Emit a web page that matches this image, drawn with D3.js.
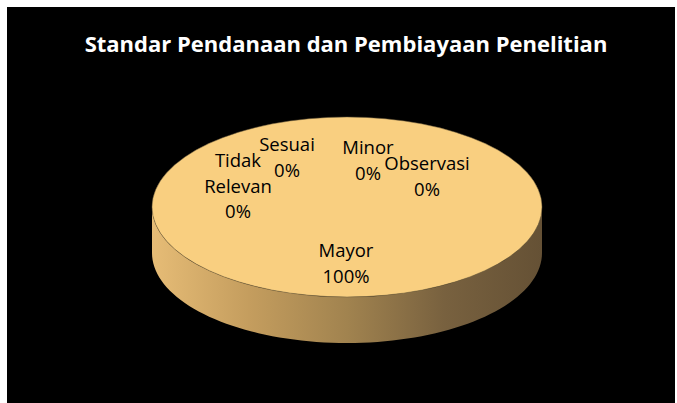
<!DOCTYPE html>
<html>
<head>
<meta charset="utf-8">
<script src="https://cdn.jsdelivr.net/npm/d3@7"></script>
<style>
  html, body { margin: 0; padding: 0; background: #ffffff; }
  svg { display: block; }
</style>
</head>
<body>
<svg id="chart" width="677" height="403"></svg>
<script>
// ---- data ----
const title = "Standar Pendanaan dan Pembiayaan Penelitian";
const categories = ["Mayor", "Minor", "Observasi", "Sesuai", "Tidak Relevan"];
const values = [100, 0, 0, 0, 0];
const percentLabels = ["100%", "0%", "0%", "0%", "0%"];
const labelLines = [["Mayor"], ["Minor"], ["Observasi"], ["Sesuai"], ["Tidak", "Relevan"]];

// ---- layout (kept separate from data) ----
const W = 677, H = 403;
const cx = 347, cy = 207, rx = 195, ry = 90, depth = 46;
const labelAnchor = [[346, 257], [368, 154], [427, 170], [287, 151], [238, 167]]; // first-line baseline
const lineH = 25.6;
const fontFam = "'Open Sans', Lato, sans-serif";

const svg = d3.select("#chart");
svg.append("rect").attr("x", 7).attr("y", 7).attr("width", 668).attr("height", H - 7).attr("fill", "#000");

const defs = svg.append("defs");
const grad = defs.append("linearGradient").attr("id", "side")
  .attr("gradientUnits", "userSpaceOnUse")
  .attr("x1", cx - rx).attr("x2", cx + rx).attr("y1", 0).attr("y2", 0);
[[0, "#E6BC76"], [0.25, "#C49D5E"], [0.5, "#A1834F"], [0.75, "#78613F"], [1, "#655135"]]
  .forEach(([o, c]) => grad.append("stop").attr("offset", o).attr("stop-color", c));

const pie = d3.pie().sort(null).value(d => d)(values);
const pt = a => [cx + rx * Math.sin(a), cy - ry * Math.cos(a)];

// sides: outer wall for the front-facing part of each slice
pie.forEach(s => {
  if (s.endAngle - s.startAngle <= 0) return;
  const a0 = Math.max(s.startAngle, Math.PI / 2), a1 = Math.min(s.endAngle, 3 * Math.PI / 2);
  if (a1 <= a0) return;
  const n = 80, top = [], bot = [];
  for (let i = 0; i <= n; i++) {
    const a = a0 + (a1 - a0) * i / n;
    const [x, y] = pt(a);
    top.push([x, y]); bot.push([x, y + depth]);
  }
  const d = d3.line()(top.concat(bot.reverse())) + "Z";
  svg.append("path").attr("d", d).attr("fill", "url(#side)");
});

// top faces via d3.arc, squashed vertically
const arc = d3.arc().innerRadius(0).outerRadius(rx);
const topG = svg.append("g").attr("transform", `translate(${cx},${cy}) scale(1,${ry / rx})`);
topG.selectAll("path").data(pie.filter(s => s.endAngle > s.startAngle)).join("path")
  .attr("d", arc)
  .attr("fill", "#F9CF80")
  .attr("stroke", "#6b5a3a").attr("stroke-width", 0.5).attr("vector-effect", "non-scaling-stroke");

// title
svg.append("text").attr("x", 346).attr("y", 52)
  .attr("text-anchor", "middle").attr("fill", "#fff")
  .attr("font-family", fontFam).attr("font-weight", "bold").attr("font-size", 22)
  .text(title);

// labels
categories.forEach((c, i) => {
  const lines = labelLines[i].concat([percentLabels[i]]);
  const t = svg.append("text").attr("text-anchor", "middle").attr("fill", "#000")
    .attr("font-family", fontFam).attr("font-size", 18.5);
  lines.forEach((l, j) => {
    t.append("tspan").attr("x", labelAnchor[i][0]).attr("y", labelAnchor[i][1] + j * lineH).text(l);
  });
});
</script>
</body>
</html>
